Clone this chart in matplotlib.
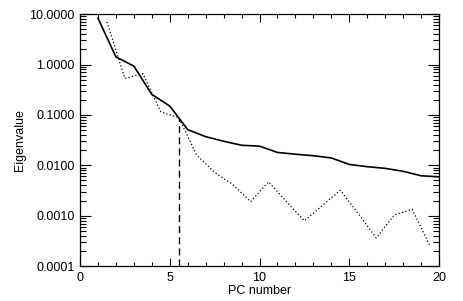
import matplotlib
matplotlib.use("Agg")
import matplotlib.pyplot as plt
from matplotlib.ticker import LogLocator, FuncFormatter, MultipleLocator

plt.rcParams['font.family'] = ['Liberation Sans', 'DejaVu Sans']

pc_solid = list(range(1, 21))
eig_solid = [8.3, 1.42, 0.93, 0.255, 0.15, 0.051, 0.037, 0.030, 0.025, 0.024,
             0.018, 0.0166, 0.0155, 0.014, 0.0104, 0.0094, 0.0087, 0.0076, 0.0062, 0.0059]

pc_dotted = [1.5, 2.5, 3.5, 4.5, 5.5, 6.5, 7.5, 8.5, 9.5, 10.5,
             11.5, 12.5, 13.5, 14.5, 15.5, 16.5, 17.5, 18.5, 19.5]
eig_dotted = [7.0, 0.53, 0.66, 0.115, 0.088, 0.016, 0.0072, 0.0042, 0.0019, 0.0047,
              0.0019, 0.00079, 0.0016, 0.0032, 0.0011, 0.00036, 0.00103, 0.00134, 0.00025]

cutoff_pc = 5.5
cutoff_value = 0.088

fig = plt.figure(figsize=(4.63, 3.01), dpi=100)
ax = fig.add_axes([0.1728, 0.116, 0.7755, 0.837])

ax.plot(pc_solid, eig_solid, color='black', lw=1.2, ls='-')
ax.plot(pc_dotted, eig_dotted, color='black', lw=0.9, ls=(0, (1, 1.8)))
ax.plot([cutoff_pc, cutoff_pc], [1e-4, cutoff_value], color='black', lw=1.0, ls=(0, (5, 3)))

ax.set_yscale('log')
ax.set_xlim(0, 20)
ax.set_ylim(1e-4, 10)

ax.xaxis.set_major_locator(MultipleLocator(5))
ax.xaxis.set_minor_locator(MultipleLocator(1))
ax.yaxis.set_major_locator(LogLocator(base=10, numticks=10))
ax.yaxis.set_minor_locator(LogLocator(base=10, subs=range(2, 10), numticks=20))
ax.yaxis.set_major_formatter(FuncFormatter(lambda v, p: f"{v:.4f}"))

ax.tick_params(which='both', direction='in', top=True, right=True, labelsize=9, width=0.8, pad=4)
ax.tick_params(axis='y', which='major', length=8)
ax.tick_params(axis='y', which='minor', length=4)
ax.tick_params(axis='x', which='major', length=6)
ax.tick_params(axis='x', which='minor', length=3)

for s in ax.spines.values():
    s.set_linewidth(0.9)

ax.set_xlabel('PC number', fontsize=9, labelpad=1)
ax.set_ylabel('Eigenvalue', fontsize=9, labelpad=2)

fig.savefig('out.png', dpi=100)
